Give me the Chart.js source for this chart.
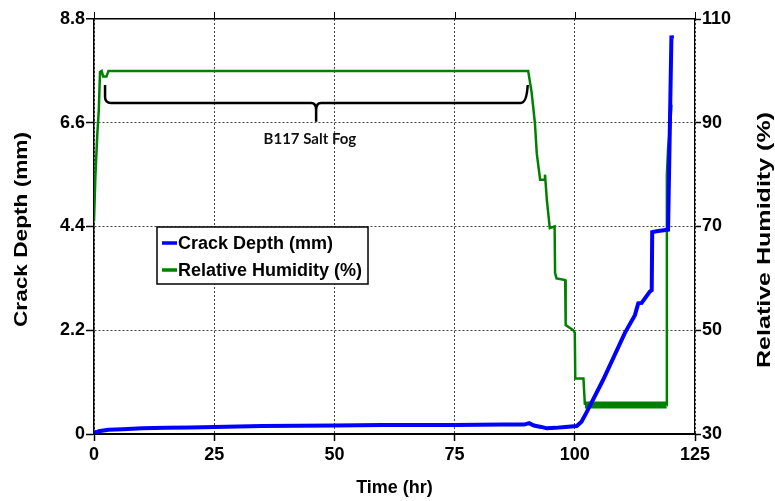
<!DOCTYPE html>
<html>
<head>
<meta charset="utf-8">
<script src="https://cdn.jsdelivr.net/npm/chart.js@4.4.0/dist/chart.umd.min.js"></script>
<style>
  html, body { margin: 0; padding: 0; background: #fff; }
</style>
</head>
<body>
<canvas id="chart" width="775" height="501"></canvas>
<script>
// crack depth (mm) vs time (hr), left axis
var depthTime = [0, 0.5, 1, 3, 6, 10, 15, 20, 25, 35, 50, 60, 75, 85, 89.5, 90.5, 91.5, 93, 94.2, 96,
  98, 100.4, 101.4, 102.5, 105.9, 110.4, 112.5, 113.2, 113.9, 115.6, 116.0, 116.1,
  117, 118.5, 119.4, 119.75, 120.1, 120.2];
var depthValues = [0.05, 0.03, 0.06, 0.09, 0.1, 0.12, 0.13, 0.14, 0.15, 0.17, 0.18, 0.19, 0.19, 0.2, 0.2, 0.23, 0.18, 0.15, 0.12, 0.13,
  0.15, 0.17, 0.26, 0.47, 1.15, 2.14, 2.52, 2.77, 2.78, 3.02, 3.05, 4.28,
  4.3, 4.32, 4.33, 6.4, 8.45, 8.38];

// relative humidity (%) vs time (hr), right axis
var rhTime = [0, 0.3, 0.7, 1.0, 1.25, 1.6, 1.9, 2.6, 3.0, 90.3, 91.0, 91.7, 92.1, 92.8, 93.6, 93.8, 94.2, 94.8, 95.8, 95.9,
  96.2, 98.0, 98.1, 99.7, 100.0, 100.1, 101.8, 102.1, 119.1, 119.15, 119.4, 119.8, 120.1];
var rhValues = [71, 80, 88, 92.5, 99.8, 100, 98.9, 98.9, 100, 100, 96, 90, 84, 79, 79, 80, 75, 69.7, 70, 61,
  60, 59.7, 51, 50, 49.5, 40.7, 40.7, 35.6, 35.6, 80, 85, 89, 93.5];

var timeTicks = [0, 25, 50, 75, 100, 125];
var depthTicks = [0, 2.2, 4.4, 6.6, 8.8];
var rhTicks = [30, 50, 70, 90, 110];

var seriesNames = ['Crack Depth (mm)', 'Relative Humidity (%)'];
var annotationText = 'B117 Salt Fog';

function toPoints(xs, ys) {
  var out = [];
  for (var i = 0; i < xs.length; i++) out.push({ x: xs[i], y: ys[i] });
  return out;
}

var tickFont = { family: 'Liberation Sans, Arial, sans-serif', weight: 'bold', size: 18 };

// brace, labels, y titles and the boxed legend
var extras = {
  id: 'extras',
  afterDatasetsDraw: function (chart) {
    var ctx = chart.ctx, x = chart.scales.x, y = chart.scales.y;
    var xL = x.getPixelForValue(2.3), xR = x.getPixelForValue(90), xC = x.getPixelForValue(46.2);
    var yH = y.getPixelForValue(7.02), yEnd = y.getPixelForValue(7.4), yTip = y.getPixelForValue(6.62);
    ctx.save();
    ctx.strokeStyle = '#000';
    ctx.lineWidth = 2.5;
    ctx.beginPath();
    ctx.moveTo(xL, yEnd);
    ctx.lineTo(xL, yH - 6);
    ctx.quadraticCurveTo(xL, yH, xL + 6, yH);
    ctx.lineTo(xC - 5, yH);
    ctx.quadraticCurveTo(xC, yH, xC, yH + 7);
    ctx.lineTo(xC, yTip);
    ctx.moveTo(xC, yH + 7);
    ctx.quadraticCurveTo(xC, yH, xC + 5, yH);
    ctx.lineTo(xR - 6, yH);
    ctx.quadraticCurveTo(xR, yH, xR + 1, yEnd);
    ctx.stroke();
    ctx.fillStyle = '#111';
    ctx.font = 'bold 15px Lato, "Open Sans", sans-serif';
    ctx.textAlign = 'center';
    ctx.textBaseline = 'middle';
    ctx.fillText(annotationText, x.getPixelForValue(44.9), y.getPixelForValue(6.26));
    ctx.restore();
  },
  afterDraw: function (chart) {
    var ctx = chart.ctx, a = chart.chartArea;
    ctx.save();
    // short stubs above the top line
    ctx.strokeStyle = '#000';
    ctx.lineWidth = 1;
    timeTicks.forEach(function (t) {
      var px = Math.round(chart.scales.x.getPixelForValue(t)) + 0.5;
      ctx.beginPath();
      ctx.moveTo(px, a.top - 7);
      ctx.lineTo(px, a.top);
      ctx.stroke();
    });

    // stretched y axis titles
    function vTitle(text, bx, cy, len) {
      ctx.save();
      ctx.font = 'bold 19px "Liberation Sans", Arial, sans-serif';
      var w = ctx.measureText(text).width;
      ctx.translate(bx, cy);
      ctx.rotate(-Math.PI / 2);
      ctx.scale(len / w, 1);
      ctx.fillStyle = '#000';
      ctx.textAlign = 'center';
      ctx.textBaseline = 'alphabetic';
      ctx.fillText(text, 0, 0);
      ctx.restore();
    }
    vTitle(seriesNames[0], 26.5, 229.5, 195);
    vTitle(seriesNames[1], 770, 240, 256);

    // legend box
    var lx = a.left + 63, ly = a.top + 208, lw = 211, lh = 57;
    ctx.fillStyle = '#fff';
    ctx.fillRect(lx, ly, lw, lh);
    ctx.strokeStyle = '#000';
    ctx.lineWidth = 1.5;
    ctx.strokeRect(lx, ly, lw, lh);
    ctx.font = 'bold 18px "Liberation Sans", Arial, sans-serif';
    ctx.textAlign = 'left';
    ctx.textBaseline = 'middle';
    chart.data.datasets.forEach(function (ds, i) {
      var ry = ly + 16 + i * 27;
      ctx.strokeStyle = ds.borderColor;
      ctx.lineWidth = 3.5;
      ctx.beginPath();
      ctx.moveTo(lx + 5, ry);
      ctx.lineTo(lx + 20, ry);
      ctx.stroke();
      ctx.fillStyle = '#000';
      ctx.fillText(ds.label, lx + 21, ry + 1);
    });
    ctx.restore();
  }
};

new Chart(document.getElementById('chart'), {
  type: 'line',
  data: {
    datasets: [
      {
        label: seriesNames[0],
        data: toPoints(depthTime, depthValues),
        yAxisID: 'y',
        borderColor: '#0000ff',
        borderWidth: 4,
        pointRadius: 0,
        tension: 0
      },
      {
        label: seriesNames[1],
        data: toPoints(rhTime, rhValues),
        yAxisID: 'y1',
        borderColor: '#008000',
        borderWidth: 2.5,
        pointRadius: 0,
        tension: 0,
        segment: {
          borderWidth: function (c) {
            return (c.p0.parsed.y < 37 && c.p1.parsed.y < 37) ? 7 : 2.5;
          }
        }
      }
    ]
  },
  options: {
    responsive: false,
    animation: false,
    layout: { padding: { top: 19, left: 0, right: 0, bottom: 0 } },
    plugins: { legend: { display: false }, tooltip: { enabled: false } },
    scales: {
      x: {
        type: 'linear',
        min: 0, max: 125,
        afterFit: function (s) { s.height = 67; },
        afterBuildTicks: function (s) { s.ticks = timeTicks.map(function (v) { return { value: v }; }); },
        ticks: { font: tickFont, color: '#000', padding: 3, maxRotation: 0,
          callback: function (v) { return String(v); } },
        grid: { color: '#444', lineWidth: 1, tickColor: '#000', tickLength: 7, tickWidth: 1.5 },
        border: { color: '#000', width: 2, dash: [2, 2] },
        title: { display: true, text: 'Time (hr)', color: '#000',
          font: { family: 'Liberation Sans, Arial, sans-serif', weight: 'bold', size: 18 },
          padding: { top: 0, bottom: 2 } }
      },
      y: {
        position: 'left',
        min: 0, max: 8.8,
        afterFit: function (s) { s.width = 94; },
        afterBuildTicks: function (s) { s.ticks = depthTicks.map(function (v) { return { value: v }; }); },
        ticks: { font: tickFont, color: '#000', padding: 1,
          callback: function (v) { return String(v); } },
        grid: {
          color: function (c) { return c.tick && c.tick.value === 8.8 ? '#000' : '#444'; },
          lineWidth: function (c) { return c.tick && c.tick.value === 8.8 ? 1.5 : 1; },
          tickColor: '#000', tickLength: 8, tickWidth: 1.5
        },
        border: { color: '#000', width: 1.5,
          dash: function (c) { return c.tick && c.tick.value === 8.8 ? [] : [2, 2]; } }
      },
      y1: {
        position: 'right',
        min: 30, max: 110,
        afterFit: function (s) { s.width = 80; },
        afterBuildTicks: function (s) { s.ticks = rhTicks.map(function (v) { return { value: v }; }); },
        ticks: { font: tickFont, color: '#000', padding: 1,
          callback: function (v) { return String(v); } },
        grid: { drawOnChartArea: false, tickColor: '#000', tickLength: 6, tickWidth: 1.5 },
        border: { color: '#000', width: 1.2 }
      }
    }
  },
  plugins: [extras]
});
</script>
</body>
</html>
